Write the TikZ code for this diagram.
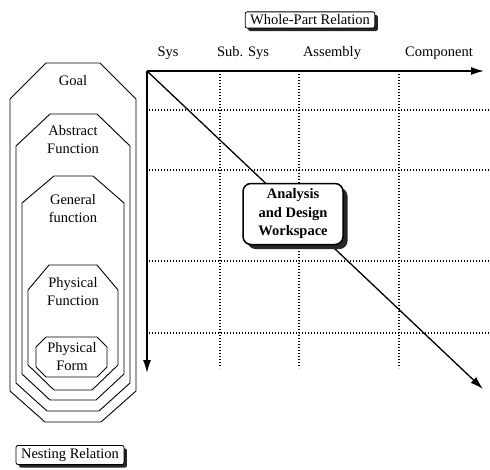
\documentclass[tikz,border=0pt]{standalone}
\usepackage{fontspec}
\setmainfont{Liberation Serif}
\usetikzlibrary{arrows.meta,shadows}
\begin{document}
\begin{tikzpicture}[x=1pt,y=-1pt,
  lbl/.style={font=\fontsize{14.5}{18}\selectfont, align=center, inner sep=0pt},
  oct/.style={draw=black, line width=0.9pt, line join=miter},
  axisarrow/.style={line width=1.3pt, -{Latex[length=13pt,width=8pt]}},
  gridline/.style={line width=1.3pt, dash pattern=on 1.3pt off 1.7pt},
  tagbox/.style={lbl, draw, fill=white, line width=0.8pt, rounded corners=2pt,
     inner xsep=5pt, inner ysep=3pt,
     drop shadow={shadow xshift=3pt, shadow yshift=-3pt, opacity=1, fill=black!85}},
  workbox/.style={lbl, font=\fontsize{14.5}{18.5}\selectfont\bfseries, draw, fill=white,
     line width=1.5pt, rounded corners=8pt, minimum width=100pt, minimum height=61pt,
     drop shadow={shadow xshift=4.5pt, shadow yshift=-4.5pt, opacity=1, fill=black!85}}]
\useasboundingbox (0,0) rectangle (490,469);

% ---- nested octagons (nesting relation) ----
\draw[oct] (46,63) -- (100,63) -- (136,99) -- (136,391) -- (101,422) -- (45,422) -- (10,391) -- (10,99) -- cycle;
\draw[oct] (50,114) -- (97,114) -- (130,146) -- (130,383) -- (99,411) -- (47,411) -- (16,383) -- (16,146) -- cycle;
\draw[oct] (54,176) -- (93,176) -- (124,203) -- (124,374) -- (96,400) -- (50,400) -- (22,374) -- (22,203) -- cycle;
\draw[oct] (49,265) -- (97,265) -- (118,290) -- (118,365) -- (92,390) -- (54,390) -- (28,365) -- (28,290) -- cycle;
\draw[oct] (46,337) -- (97,337) -- (107,347) -- (107,367) -- (97,377) -- (46,377) -- (36,367) -- (36,347) -- cycle;

\node[lbl] (goal) at (73,81) {Goal};
\node[lbl] (abs) at (73,140) {Abstract\\Function};
\node[lbl] (gen) at (73,209) {General\\function};
\node[lbl] (pfun) at (73,292) {Physical\\Function};
\node[lbl] (pform) at (72,357) {Physical\\Form};

% ---- grid ----
\coordinate (o) at (147,71);
\coordinate (xend) at (484,71);
\coordinate (yend) at (147,373);
\coordinate (dend) at (483,389);

\foreach \y/\n in {110/a,170/b,261/c,333/d} {
  \coordinate (hl\n) at (149,\y);
  \coordinate (hr\n) at (490,\y);
  \draw[gridline] (hl\n) -- (hr\n);
}
\foreach \x/\n in {220/a,299/b,399/c} {
  \coordinate (vt\n) at (\x,74);
  \coordinate (vb\n) at (\x,368);
  \draw[gridline] (vt\n) -- (vb\n);
}

\draw[axisarrow] (o) -- (xend);
\draw[axisarrow] (o) -- (yend);
\draw[axisarrow] (o) -- (dend);

\node[lbl] (sys) at (168,53) {Sys};
\node[lbl] (sub) at (243,53) {Sub. Sys};
\node[lbl] (asm) at (332,53) {Assembly};
\node[lbl] (comp) at (439,53) {Component};

\node[workbox] (work) at (293,214) {Analysis\\and Design\\Workspace};

\node[tagbox] (wp) at (310,20) {Whole-Part Relation};
\node[tagbox] (nest) at (70,455) {Nesting Relation};
\end{tikzpicture}
\end{document}
